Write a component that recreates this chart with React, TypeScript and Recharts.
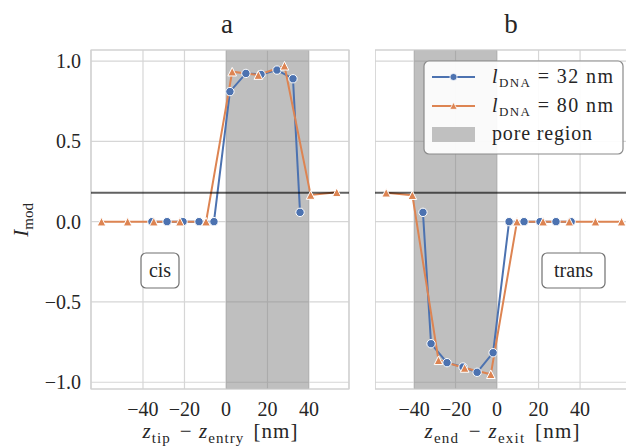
import React from 'react';
import {
  CartesianGrid,
  Line,
  LineChart,
  ReferenceArea,
  ReferenceLine,
  XAxis,
  YAxis,
} from 'recharts';

// values
const cisBlueX = [-35.7, -28.4, -20.7, -13.0, -5.8, 1.9, 9.6, 16.9, 24.6, 32.3, 35.7];
const cisBlueY = [0, 0, 0, 0, 0, 0.81, 0.923, 0.917, 0.944, 0.89, 0.058];
const cisOrangeX = [-60, -47.4, -34.8, -22.2, -9.6, 3, 15.6, 28.2, 40.8, 53.4];
const cisOrangeY = [0, 0, 0, 0, 0, 0.934, 0.913, 0.971, 0.166, 0.183];

const transBlueX = [-35.7, -31.8, -24.1, -16.4, -9.6, -1.9, 5.8, 13.0, 20.7, 28.4, 35.7];
const transBlueY = [0.058, -0.76, -0.878, -0.905, -0.938, -0.816, 0, 0, 0, 0, 0];
const transOrangeX = [-53.4, -40.8, -28.2, -15.6, -3, 9.6, 22.2, 34.8, 47.4, 60];
const transOrangeY = [0.18, 0.165, -0.863, -0.911, -0.95, 0, 0, 0, 0, 0];

const xTicks = [-40, -20, 0, 20, 40];
const yTicks = [-1, -0.5, 0, 0.5, 1];
const threshold = 0.18;
const cisPore = [0, 40];
const transPore = [-40, 0];

const BLUE = '#4c72b0';
const ORANGE = '#dd8452';
const TEXT = '#262626';
const FONT = '"Liberation Serif", "DejaVu Serif", serif';
const Y_DOMAIN: [number, number] = [-1.042, 1.069];

const zip = (xs: number[], ys: number[]) => xs.map((x, i) => ({ x, y: ys[i] }));
const minus = (s: string) => s.replace('-', '\u2212');

const CircleDot = (p: any) =>
  p.cx == null ? <g key={p.key} /> : (
    <circle key={p.key} cx={p.cx} cy={p.cy} r={4.2} fill={BLUE} stroke="#fff" strokeWidth={1} />
  );

const TriangleDot = (p: any) => {
  if (p.cx == null) return <g key={p.key} />;
  const s = 4.3;
  return (
    <polygon
      key={p.key}
      points={`${p.cx},${p.cy - s} ${p.cx - s},${p.cy + s} ${p.cx + s},${p.cy + s}`}
      fill={ORANGE}
      stroke="#fff"
      strokeWidth={1}
    />
  );
};

type PanelProps = {
  blue: { x: number; y: number }[];
  orange: { x: number; y: number }[];
  xDomain: [number, number];
  pore: number[];
  showY: boolean;
  left: number;
  width: number;
  margin: { top: number; right: number; bottom: number; left: number };
};

const Panel = ({ blue, orange, xDomain, pore, showY, left, width, margin }: PanelProps) => (
  <div style={{ position: 'absolute', left, top: 0 }}>
    <LineChart width={width} height={447} margin={margin}>
      <CartesianGrid stroke="#d6d6d6" strokeWidth={1.2} />
      <XAxis
        dataKey="x"
        type="number"
        domain={xDomain}
        allowDataOverflow
        ticks={xTicks}
        height={58}
        axisLine={false}
        tickLine={false}
        tickSize={0}
        tickMargin={13}
        tickFormatter={(v) => minus(String(v))}
        tick={{ fill: TEXT, fontSize: 20, fontFamily: FONT }}
      />
      <YAxis
        type="number"
        domain={Y_DOMAIN}
        allowDataOverflow
        ticks={yTicks}
        width={40}
        hide={!showY}
        axisLine={false}
        tickLine={false}
        tickSize={0}
        tickMargin={10}
        tickFormatter={(v) => minus(Number(v).toFixed(1))}
        tick={{ fill: TEXT, fontSize: 20, fontFamily: FONT }}
      />
      <ReferenceArea x1={pore[0]} x2={pore[1]} fill="#808080" fillOpacity={0.5} stroke="none" />
      <ReferenceArea
        x1={xDomain[0]}
        x2={xDomain[1]}
        y1={Y_DOMAIN[0]}
        y2={Y_DOMAIN[1]}
        fill="none"
        stroke="#d0d0d0"
        strokeWidth={1.2}
      />
      <Line
        data={blue}
        dataKey="y"
        type="linear"
        stroke={BLUE}
        strokeWidth={2}
        dot={CircleDot}
        activeDot={false}
        isAnimationActive={false}
      />
      <Line
        data={orange}
        dataKey="y"
        type="linear"
        stroke={ORANGE}
        strokeWidth={2}
        dot={TriangleDot}
        activeDot={false}
        isAnimationActive={false}
      />
      <ReferenceLine y={threshold} stroke="#000" strokeOpacity={0.62} strokeWidth={1.8} />
    </LineChart>
  </div>
);

const Sub = ({ children, size = 15, shift = 5 }: { children: string; size?: number; shift?: number }) => (
  <>
    <tspan fontSize={size} dy={shift}>{children}</tspan>
    <tspan dy={-shift}>{'\u200a'}</tspan>
  </>
);

const AxisLabel = ({ x, a, b }: { x: number; a: string; b: string }) => (
  <text x={x} y={438} fontSize={21} textAnchor="middle" textLength={155} lengthAdjust="spacing">
    <tspan fontStyle="italic">z</tspan>
    <Sub>{a}</Sub>
    <tspan> {'\u2212'} </tspan>
    <tspan fontStyle="italic">z</tspan>
    <Sub>{b}</Sub>
    <tspan> [nm]</tspan>
  </text>
);

const LegendLabel = ({ y, value }: { y: number; value: string }) => (
  <text x={492} y={y} fontSize={20} textLength={121} lengthAdjust="spacing">
    <tspan fontStyle="italic">l</tspan>
    <tspan fontSize={13} dy={4}>DNA</tspan>
    <tspan dy={-4}> = {value} nm</tspan>
  </text>
);

export default function App() {
  return (
    <div
      style={{
        position: 'absolute',
        left: 0,
        top: 0,
        width: 626,
        height: 447,
        overflow: 'hidden',
        background: '#fff',
        fontFamily: FONT,
      }}
    >
      <Panel
        blue={zip(cisBlueX, cisBlueY)}
        orange={zip(cisOrangeX, cisOrangeY)}
        xDomain={[-65.06, 59.3]}
        pore={cisPore}
        showY
        left={0}
        width={360}
        margin={{ top: 50, right: 11, bottom: 0, left: 51 }}
      />
      <Panel
        blue={zip(transBlueX, transBlueY)}
        orange={zip(transOrangeX, transOrangeY)}
        xDomain={[-58.8, 65.5]}
        pore={transPore}
        showY={false}
        left={375}
        width={270}
        margin={{ top: 50, right: 12, bottom: 0, left: 0 }}
      />
      <svg
        width={626}
        height={447}
        style={{ position: 'absolute', left: 0, top: 0, pointerEvents: 'none' }}
        fontFamily={FONT}
        fill={TEXT}
      >
        <text x={227} y={33} fontSize={27} textAnchor="middle">a</text>
        <text x={511} y={33} fontSize={27} textAnchor="middle">b</text>

        <AxisLabel x={220} a="tip" b="entry" />
        <AxisLabel x={502} a="end" b="exit" />
        <text transform="translate(28,219) rotate(-90)" fontSize={21} textAnchor="middle">
          <tspan fontStyle="italic">I</tspan>
          <Sub>mod</Sub>
        </text>

        <rect x={141} y={253} width={38} height={35} rx={5} fill="#fff" stroke="#707070" strokeWidth={1.2} />
        <text x={160} y={277} fontSize={20} textAnchor="middle">cis</text>
        <rect x={542} y={253} width={63} height={35} rx={5} fill="#fff" stroke="#707070" strokeWidth={1.2} />
        <text x={573.5} y={277} fontSize={20} textAnchor="middle">trans</text>

        <rect x={424} y={61} width={199} height={93} rx={5} fill="#fff" fillOpacity={0.92} stroke="#8a8a8a" strokeWidth={1.2} />
        <line x1={432} x2={475} y1={77} y2={77} stroke={BLUE} strokeWidth={2} />
        <circle cx={453.5} cy={77} r={3.6} fill={BLUE} stroke="#fff" strokeWidth={0.8} />
        <line x1={432} x2={475} y1={106} y2={106} stroke={ORANGE} strokeWidth={2} />
        <polygon points="453.5,102.3 449.8,109.3 457.2,109.3" fill={ORANGE} stroke="#fff" strokeWidth={0.8} />
        <rect x={432} y={127} width={43} height={15} fill="#c0c0c0" />
        <LegendLabel y={83} value="32" />
        <LegendLabel y={112} value="80" />
        <text x={492} y={140} fontSize={20} textLength={100} lengthAdjust="spacing">pore region</text>
      </svg>
    </div>
  );
}
